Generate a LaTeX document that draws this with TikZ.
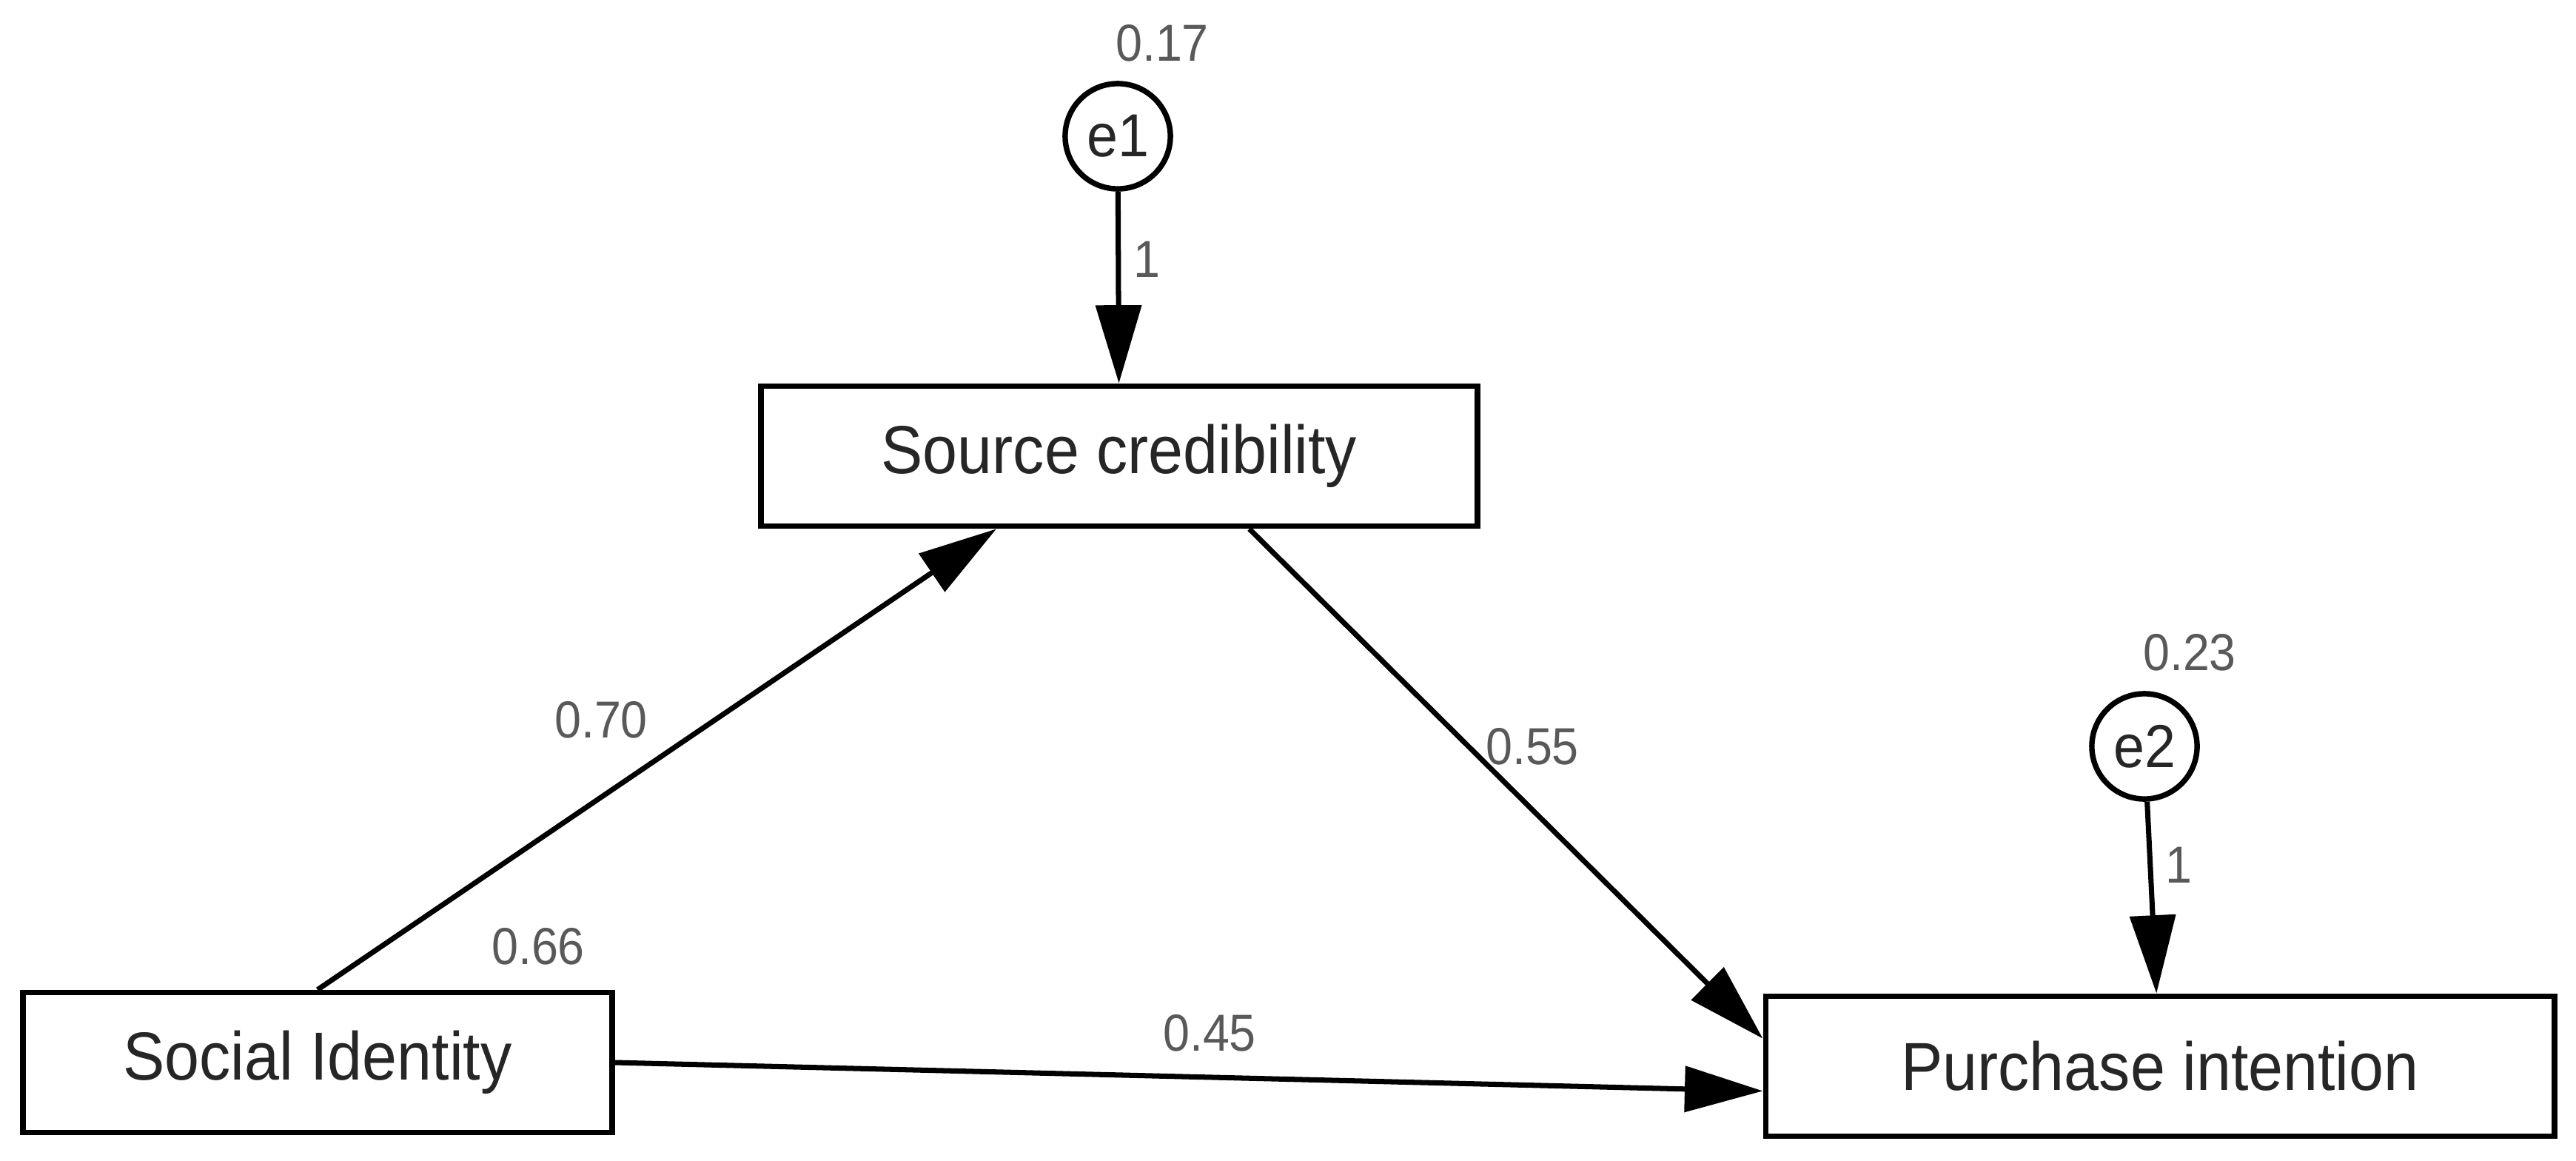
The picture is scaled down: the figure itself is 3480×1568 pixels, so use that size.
\documentclass[tikz,border=0pt]{standalone}
\usepackage{fontspec}
\setmainfont{Liberation Sans}[FakeStretch=0.92]
\usetikzlibrary{arrows.meta, calc, shapes.geometric}

\tikzset{
  var/.style={draw, line width=2pt, minimum height=1.7cm, inner sep=0pt,
    font=\fontsize{23.5}{28}\selectfont, text=black!85},
  err/.style={draw, circle, line width=1.9pt, minimum size=1.28cm, inner sep=0pt,
    font=\fontsize{21}{25}\selectfont, text=black!85},
  est/.style={inner sep=0pt, font=\fontsize{18}{21}\selectfont, text=black!65},
  reg/.style={line width=1.8pt, -{Triangle[length=0.95cm, width=0.55cm]}}
}

\begin{document}
\begin{tikzpicture}[x=0.009cm, y=-0.009cm]
  \useasboundingbox (0,0) rectangle (3480,1568);

  % observed variables
  \node[var, minimum width=8.72cm] (sc) at (1512,616) {Source credibility};
  \node[var, minimum width=7.16cm] (si) at (429,1435) {Social Identity};
  \node[var, minimum width=9.59cm] (pi) at (2918,1440) {Purchase intention};

  % error terms
  \node[err] (e1) at (1510,184) {e1};
  \node[err] (e2) at (2897,1008) {e2};

  % estimates
  \node[est] (ve1) at (1570,58) {0.17};
  \node[est] (ve2) at (2958,881) {0.23};
  \node[est] (vsi) at (727,1278) {0.66};
  \node[est] (w1) at (1549,350) {1};
  \node[est] (w2) at (2943,1168) {1};
  \node[est] (bsc) at (812,972) {0.70};
  \node[est] (bpi) at (2070,1008) {0.55};
  \node[est] (bdir) at (1634,1395) {0.45};

  % paths
  \draw[reg] (e1) -- (sc);
  \draw[reg] (e2) -- (pi);
  \draw[reg] (si.north) -- ($(sc.south west)!0.33!(sc.south east)$);
  \draw[reg] ($(sc.south west)!0.68!(sc.south east)$) -- ($(pi.north west)!0.31!(pi.south west)$);
  \draw[reg] (si.east) -- ($(pi.north west)!0.67!(pi.south west)$);
\end{tikzpicture}
\end{document}
